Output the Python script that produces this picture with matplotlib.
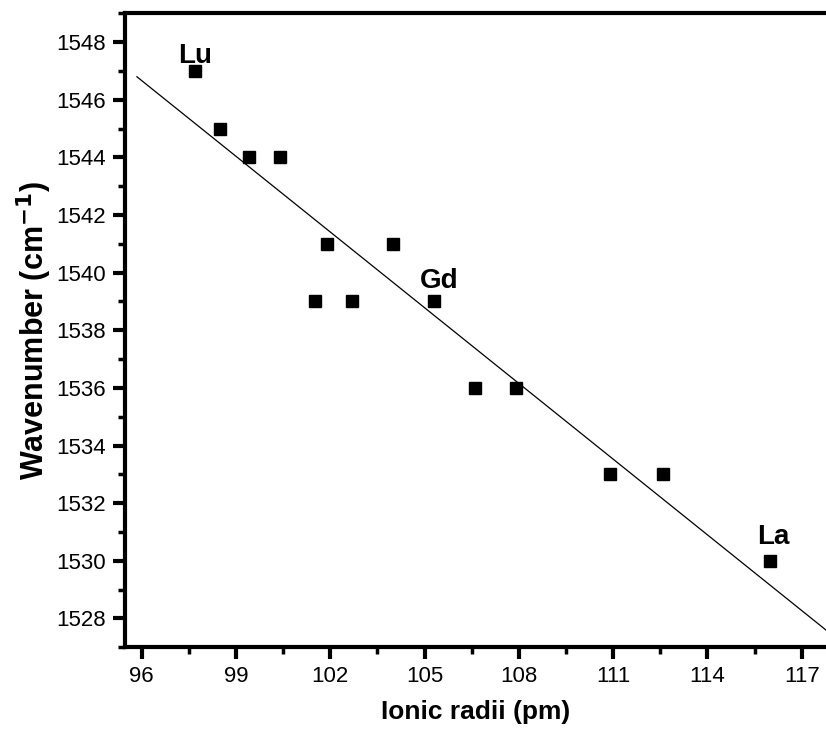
import numpy as np
import matplotlib
matplotlib.use("Agg")
import matplotlib.pyplot as plt
from matplotlib.ticker import MultipleLocator

plt.rcParams['font.family'] = ['Liberation Sans', 'DejaVu Sans']

# ionic radii (pm) and band position (cm-1)
radii = [97.7, 98.5, 99.4, 100.4, 101.9, 101.5, 102.7, 104.0, 105.3, 106.6, 107.9, 110.9, 112.6, 116.0]
wavenumber = [1547, 1545, 1544, 1544, 1541, 1539, 1539, 1541, 1539, 1536, 1536, 1533, 1533, 1530]

labels = ['Lu', 'Gd', 'La']
label_x = [97.7, 105.3, 116.0]
label_y = [1547, 1539, 1530]
label_offsets = [(0, 6), (4, 10), (2, 12)]

fig = plt.figure(figsize=(8.26, 7.39), dpi=100)
ax = fig.add_axes([0.1513, 0.1241, 0.8487, 0.8579])

ax.plot(radii, wavenumber, 's', color='black', ms=8)

# linear fit
k, b = np.polyfit(radii, wavenumber, 1)
xf = np.array([95.85, 118.5])
ax.plot(xf, k * xf + b, color='black', lw=0.9)

for t, x, y, off in zip(labels, label_x, label_y, label_offsets):
    ax.annotate(t, (x, y), xytext=off, textcoords='offset points',
                ha='center', va='baseline', fontsize=20, fontweight='bold')

ax.set_xlim(95.47, 117.77)
ax.set_ylim(1527, 1549)
ax.xaxis.set_major_locator(MultipleLocator(3))
ax.xaxis.set_minor_locator(MultipleLocator(1.5))
ax.yaxis.set_major_locator(MultipleLocator(2))
ax.yaxis.set_minor_locator(MultipleLocator(1))

ax.spines['right'].set_visible(False)
for s in ['left', 'bottom', 'top']:
    ax.spines[s].set_linewidth(3)
ax.tick_params(which='major', direction='out', length=8.5, width=3, labelsize=16, pad=5)
ax.tick_params(which='minor', direction='out', length=5, width=2.5)
ax.tick_params(top=False, right=False, which='both')

ax.set_xlabel('Ionic radii (pm)', fontsize=19, fontweight='bold', labelpad=9)
ax.set_ylabel(r'Wavenumber (cm$^{\mathbf{-1}}$)', fontsize=22, fontweight='bold', labelpad=2)

fig.savefig('out.png', dpi=100)
